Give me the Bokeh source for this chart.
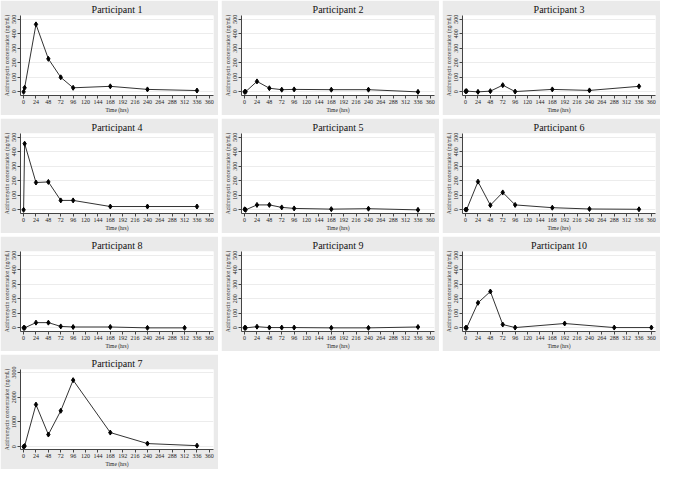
from bokeh.plotting import figure
from bokeh.layouts import gridplot
from bokeh.models import FixedTicker, Range1d
from bokeh.embed import file_html
from bokeh.resources import INLINE

# ---- data (hours, concentration) ----
titles = ["Participant 1", "Participant 2", "Participant 3",
          "Participant 4", "Participant 5", "Participant 6",
          "Participant 8", "Participant 9", "Participant 10",
          "Participant 7"]

p1_time = [0, 2, 24, 48, 72, 96, 168, 240, 336]
p1_conc = [0, 28, 464, 227, 100, 28, 38, 17, 9]

p2_time = [0, 2, 24, 48, 72, 96, 168, 240, 336]
p2_conc = [0, 1, 72, 25, 15, 17, 15, 15, 0]

p3_time = [0, 2, 24, 48, 72, 96, 168, 240, 336]
p3_conc = [4, 5, 0, 5, 46, 2, 17, 10, 38]

p4_time = [0, 2, 24, 48, 72, 96, 168, 240, 336]
p4_conc = [0, 455, 188, 192, 65, 65, 23, 23, 23]

p5_time = [0, 2, 24, 48, 72, 96, 168, 240, 336]
p5_conc = [4, 0, 34, 34, 17, 10, 5, 8, 0]

p6_time = [0, 2, 24, 48, 72, 96, 168, 240, 336]
p6_conc = [2, 2, 194, 32, 120, 34, 15, 6, 4]

p8_time = [0, 2, 24, 48, 72, 96, 168, 240, 312]
p8_conc = [0, 0, 36, 36, 10, 6, 6, 0, 0]

p9_time = [0, 2, 24, 48, 72, 96, 168, 240, 336]
p9_conc = [0, 0, 8, 2, 2, 2, 0, 0, 6]

p10_time = [0, 2, 24, 48, 72, 96, 192, 288, 360]
p10_conc = [0, 0, 172, 250, 23, 2, 30, 2, 2]

p7_time = [0, 2, 24, 48, 72, 96, 168, 240, 336]
p7_conc = [0, 25, 1700, 490, 1450, 2690, 570, 125, 40]

x_ticks = list(range(0, 361, 24))
y_ticks_small = [0, 100, 200, 300, 400, 500]
y_ticks_large = [0, 1000, 2000, 3000]

series = [(p1_time, p1_conc), (p2_time, p2_conc), (p3_time, p3_conc),
          (p4_time, p4_conc), (p5_time, p5_conc), (p6_time, p6_conc),
          (p8_time, p8_conc), (p9_time, p9_conc), (p10_time, p10_conc),
          (p7_time, p7_conc)]

FONT = "Liberation Serif"
BG = "#eaeaea"

W, H = 218, 115


def panel(title, t, c, large=False):
    if large:
        yr = Range1d(-115, 3120)
        yt = y_ticks_large
    else:
        yr = Range1d(-25, 525)
        yt = y_ticks_small
    p = figure(width=W, height=H, output_backend="svg", toolbar_location=None,
               x_range=Range1d(-6, 368), y_range=yr,
               min_border_left=6, min_border_right=5,
               min_border_top=4, min_border_bottom=2)
    p.border_fill_color = BG
    p.background_fill_color = "white"
    p.outline_line_color = None
    p.title.text = title
    p.title.align = "center"
    p.title.text_font = FONT
    p.title.text_font_size = "10px"
    p.title.text_font_style = "normal"
    p.title.text_color = "#111111"
    p.title.standoff = 2

    p.xaxis.ticker = FixedTicker(ticks=x_ticks)
    p.yaxis.ticker = FixedTicker(ticks=yt)
    p.xgrid.grid_line_color = None
    p.ygrid.grid_line_color = "#ececec"
    p.ygrid.grid_line_width = 1

    for ax in (p.xaxis, p.yaxis):
        ax.axis_line_color = "#444444"
        ax.major_tick_line_color = "#444444"
        ax.major_tick_out = 3
        ax.major_tick_in = 0
        ax.minor_tick_line_color = None
        ax.major_label_text_font = FONT
        ax.major_label_text_font_size = "6px"
        ax.major_label_text_color = "#222222"
        ax.major_label_standoff = 1
        ax.axis_label_text_font = FONT
        ax.axis_label_text_font_size = "5.5px"
        ax.axis_label_text_font_style = "normal"
        ax.axis_label_text_color = "#222222"
        ax.axis_label_standoff = 0

    p.yaxis.major_label_orientation = "vertical"
    p.xaxis.axis_label = "Time (hrs)"
    p.yaxis.axis_label = "Azithromycin concentration (ng/mL)"

    p.line(t, c, line_color="#333333", line_width=1)
    p.scatter(t, c, marker="diamond", size=5, fill_color="black", line_color="black")
    return p


figs = []
for i, (ttl, (t, c)) in enumerate(zip(titles, series)):
    figs.append(panel(ttl, t, c, large=(i == 9)))

rows = [figs[0:3], figs[3:6], figs[6:9], [figs[9], None, None]]
g = gridplot(rows, toolbar_location=None)
g.spacing = 3

open("out.html", "w").write(file_html(g, INLINE))
